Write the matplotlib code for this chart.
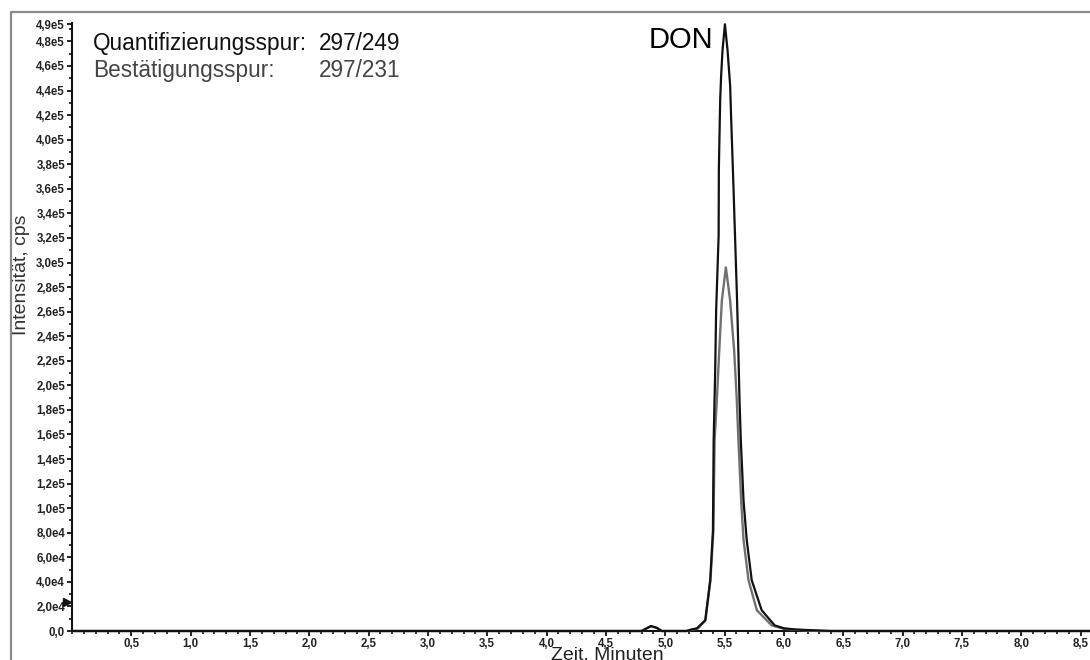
import matplotlib
matplotlib.use("Agg")
import matplotlib.pyplot as plt
from matplotlib.lines import Line2D
from matplotlib.ticker import FixedLocator, MultipleLocator

# ---------------- data ----------------
# Quantifier trace 297/249 (black)
t_quant = [0.0, 4.80, 4.84, 4.88, 4.93, 4.97, 5.18, 5.22, 5.267, 5.337, 5.379, 5.402,
           5.408, 5.421, 5.429, 5.450, 5.452, 5.463, 5.471, 5.483, 5.503, 5.525,
           5.547, 5.556, 5.576, 5.584, 5.603, 5.612, 5.626, 5.637, 5.660, 5.687,
           5.729, 5.813, 5.922, 6.00, 6.10, 6.20, 6.30, 6.40, 8.60]
i_quant = [0, 0, 2.0e3, 4.0e3, 2.5e3, 0, 0, 1.2e3, 2.2e3, 8.7e3, 41.3e3, 81.8e3,
           155e3, 212e3, 261e3, 322e3, 377e3, 432e3, 452e3, 473e3, 494e3, 473e3,
           444e3, 416e3, 359e3, 334e3, 277e3, 245e3, 188e3, 155e3, 106e3, 73.9e3,
           41.3e3, 16.9e3, 4.6e3, 2.2e3, 1.2e3, 0.8e3, 0.4e3, 0, 0]

# Qualifier trace 297/231 (grey)
t_qual = [0.0, 4.80, 4.84, 4.88, 4.93, 4.97, 5.18, 5.22, 5.275, 5.339, 5.381, 5.406,
          5.416, 5.435, 5.455, 5.477, 5.511, 5.547, 5.581, 5.603, 5.617, 5.640,
          5.660, 5.702, 5.772, 5.897, 6.00, 6.10, 6.20, 6.30, 8.60]
i_qual = [0, 0, 2.0e3, 4.0e3, 2.5e3, 0, 0, 1.0e3, 2.0e3, 8.7e3, 41.3e3, 81.8e3,
          155e3, 188e3, 228e3, 269e3, 296e3, 269e3, 228e3, 188e3, 155e3, 106e3,
          73.9e3, 41.3e3, 16.9e3, 4.6e3, 1.8e3, 1.0e3, 0.5e3, 0, 0]

x_ticks = [0.5, 1.0, 1.5, 2.0, 2.5, 3.0, 3.5, 4.0, 4.5, 5.0, 5.5, 6.0, 6.5, 7.0, 7.5, 8.0, 8.5]
x_tick_labels = ["0,5", "1,0", "1,5", "2,0", "2,5", "3,0", "3,5", "4,0", "4,5",
                 "5,0", "5,5", "6,0", "6,5", "7,0", "7,5", "8,0", "8,5"]
y_ticks = [0, 2e4, 4e4, 6e4, 8e4, 1.0e5, 1.2e5, 1.4e5, 1.6e5, 1.8e5, 2.0e5, 2.2e5,
           2.4e5, 2.6e5, 2.8e5, 3.0e5, 3.2e5, 3.4e5, 3.6e5, 3.8e5, 4.0e5, 4.2e5,
           4.4e5, 4.6e5, 4.8e5, 4.94e5]
y_tick_labels = ["0,0", "2,0e4", "4,0e4", "6,0e4", "8,0e4", "1,0e5", "1,2e5", "1,4e5",
                 "1,6e5", "1,8e5", "2,0e5", "2,2e5", "2,4e5", "2,6e5", "2,8e5", "3,0e5",
                 "3,2e5", "3,4e5", "3,6e5", "3,8e5", "4,0e5", "4,2e5", "4,4e5", "4,6e5",
                 "4,8e5", "4,9e5"]
x_range = [0.0, 8.58]
y_range = [0.0, 4.95e5]
baseline_marker = [-0.045, 2.34e4]

label_quant = "Quantifizierungsspur:"
label_qual = "Bestätigungsspur:"
trace_quant = "297/249"
trace_qual = "297/231"
peak_name = "DON"

# ---------------- figure ----------------
W, H = 1090, 660
fig = plt.figure(figsize=(W / 100, H / 100), dpi=100)
plt.rcParams['font.family'] = ['Liberation Sans', 'DejaVu Sans']

ax = fig.add_axes([72 / W, (H - 631) / H, (W - 72) / W, (631 - 23) / H])

ax.plot(t_qual, i_qual, color="#707070", lw=1.7, zorder=3, clip_on=False)
ax.plot(t_quant, i_quant, color="#111111", lw=1.6, zorder=4, clip_on=False)

ax.set_xlim(*x_range)
ax.set_ylim(*y_range)

for s in ("top", "right"):
    ax.spines[s].set_visible(False)
for s in ("left", "bottom"):
    ax.spines[s].set_linewidth(1.5)
    ax.spines[s].set_color("#111111")

ax.xaxis.set_major_locator(FixedLocator(x_ticks))
ax.set_xticklabels(x_tick_labels)
ax.xaxis.set_minor_locator(MultipleLocator(0.1))
ax.yaxis.set_major_locator(FixedLocator(y_ticks))
ax.set_yticklabels(y_tick_labels)
ax.yaxis.set_minor_locator(MultipleLocator(1e4))

ax.tick_params(axis="both", which="major", direction="out", length=3.5, width=1.3,
               color="#111111", labelsize=8.3, labelcolor="#222222", pad=1.5)
ax.tick_params(axis="both", which="minor", direction="out", length=2, width=1.2,
               color="#111111")
for lab in ax.get_xticklabels() + ax.get_yticklabels():
    lab.set_fontweight("bold")

# baseline marker on y axis
ax.plot([baseline_marker[0]], [baseline_marker[1]], marker=">", color="#111111",
        markersize=6, clip_on=False, zorder=5)

# axis labels
fig.text(22 / W, (H - 275) / H, "Intensität, cps", rotation=90, ha="center",
         va="center", fontsize=14, color="#333333")
fig.text(607 / W, 0 / H, "Zeit, Minuten", ha="center", va="baseline",
         fontsize=14, color="#222222")

# legend-like text
fig.text(93 / W, (H - 50) / H, label_quant, ha="left", va="baseline",
         fontsize=16.3, color="#111111")
fig.text(400 / W, (H - 50) / H, trace_quant, ha="right", va="baseline",
         fontsize=16.3, color="#111111")
fig.text(93 / W, (H - 77) / H, label_qual, ha="left", va="baseline",
         fontsize=16.3, color="#444444")
fig.text(400 / W, (H - 77) / H, trace_qual, ha="right", va="baseline",
         fontsize=16.3, color="#444444")

# peak annotation
fig.text(713 / W, (H - 48) / H, peak_name, ha="right", va="baseline",
         fontsize=21, color="#000000")

# outer grey frame (left and top edges visible)
fig.add_artist(Line2D([11 / W, 11 / W, 1.0], [0.0, (H - 12) / H, (H - 12) / H],
                      transform=fig.transFigure, color="#8a8a8a", lw=1.6))

fig.savefig("out.png", dpi=100)
